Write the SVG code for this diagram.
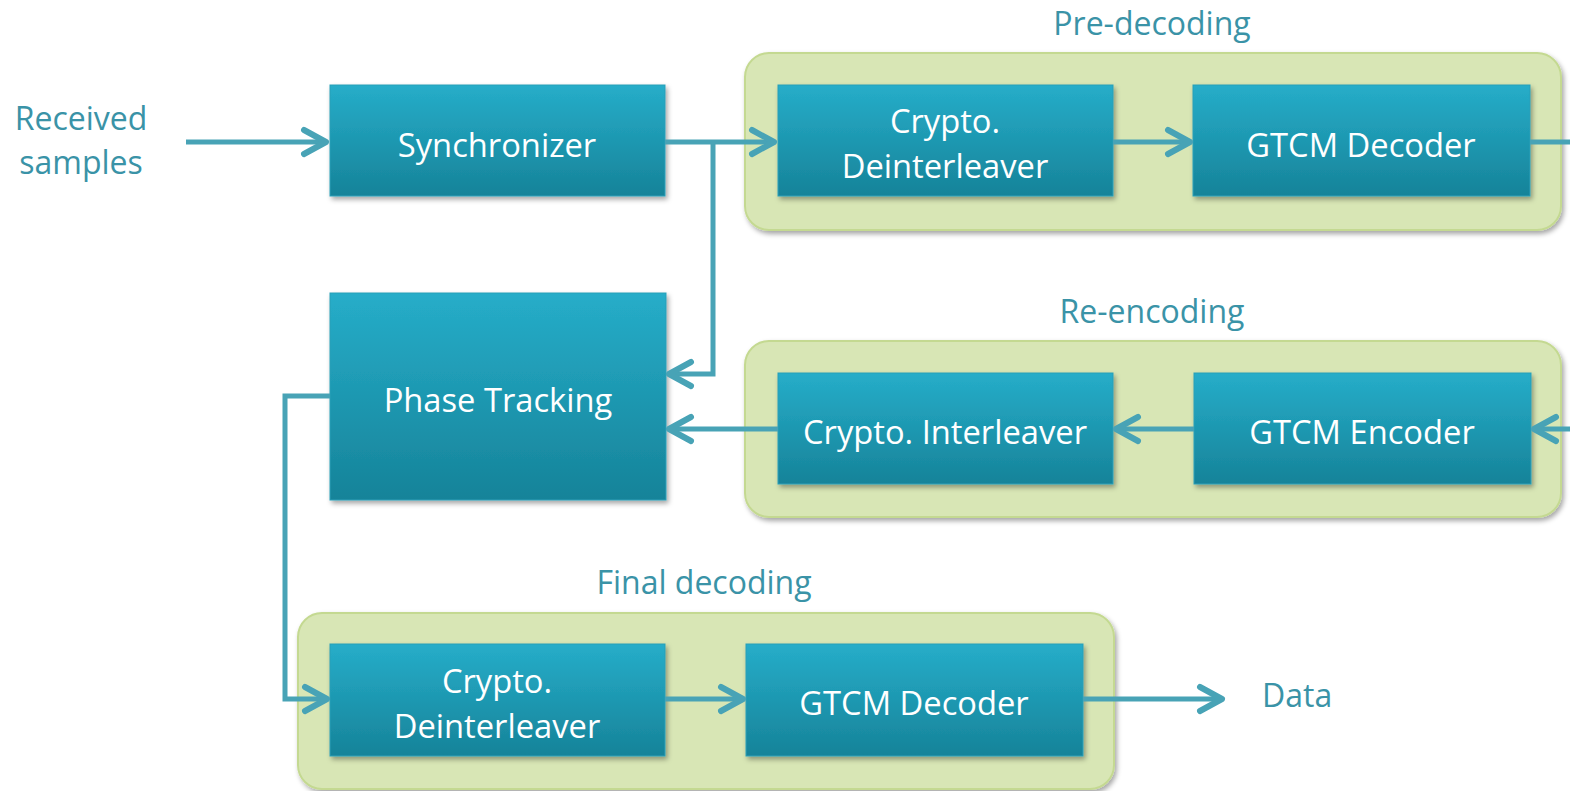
<svg xmlns="http://www.w3.org/2000/svg" width="1570" height="791" viewBox="0 0 1570 791">
<defs>
<linearGradient id="boxg" x1="0" y1="0" x2="0" y2="1">
<stop offset="0" stop-color="#26adc9"/>
<stop offset="1" stop-color="#168399"/>
</linearGradient>
<filter id="sh" x="-10%" y="-10%" width="125%" height="130%">
<feDropShadow dx="2" dy="3" stdDeviation="2.5" flood-color="#000" flood-opacity="0.35"/>
</filter>
<marker id="arr" markerUnits="userSpaceOnUse" viewBox="-28 -16 32 32" refX="0" refY="0" markerWidth="32" markerHeight="32" orient="auto">
<path d="M-22,-12 L0,0 L-22,12" fill="none" stroke="#48a3b6" stroke-width="6" stroke-linecap="round" stroke-linejoin="round"/>
</marker>
<style>
.box{fill:url(#boxg);stroke:#2a9fb8;stroke-width:1;filter:url(#sh)}
.grp{fill:#d8e6b5;stroke:#c4d991;stroke-width:2;filter:url(#sh)}
.bt{font-family:"Open Sans","Liberation Sans",sans-serif;font-size:32.7px;fill:#ffffff;text-anchor:middle}
.lt{font-family:"Open Sans","Liberation Sans",sans-serif;font-size:32px;fill:#3a93a7;text-anchor:middle}
.cn{fill:none;stroke:#48a3b6;stroke-width:5;stroke-linejoin:miter}
.cn.a{marker-end:url(#arr)}
</style>
</defs>
<rect width="1570" height="791" fill="#ffffff"/>

<g id="pre-decoding">
<rect class="grp" x="745" y="53" width="816" height="177" rx="24"/>
<text class="lt" x="1152" y="35">Pre-decoding</text>
</g>
<g id="re-encoding">
<rect class="grp" x="745" y="341" width="816" height="176" rx="24"/>
<text class="lt" x="1152" y="323">Re-encoding</text>
</g>
<g id="final-decoding">
<rect class="grp" x="298" y="613" width="816" height="176" rx="24"/>
<text class="lt" x="704" y="594">Final decoding</text>
</g>

<g id="received-samples">
<text class="lt" x="81" y="130">Received<tspan x="81" y="174">samples</tspan></text>
</g>
<g id="data">
<text class="lt" x="1262" y="707" style="text-anchor:start">Data</text>
</g>

<g id="synchronizer">
<rect class="box" x="330" y="85" width="335" height="111"/>
<text class="bt" x="497" y="157">Synchronizer</text>
</g>
<g id="phase-tracking">
<rect class="box" x="330" y="293" width="336" height="207"/>
<text class="bt" x="498" y="412">Phase Tracking</text>
</g>
<g id="pre-crypto-deinterleaver">
<rect class="box" x="778" y="85" width="335" height="111"/>
<text class="bt" x="945" y="132.5">Crypto.<tspan x="945" y="177.5">Deinterleaver</tspan></text>
</g>
<g id="pre-gtcm-decoder">
<rect class="box" x="1193" y="85" width="337" height="111"/>
<text class="bt" x="1361" y="157">GTCM Decoder</text>
</g>
<g id="crypto-interleaver">
<rect class="box" x="778" y="373" width="335" height="111"/>
<text class="bt" x="945" y="444">Crypto. Interleaver</text>
</g>
<g id="gtcm-encoder">
<rect class="box" x="1194" y="373" width="337" height="111"/>
<text class="bt" x="1362" y="444">GTCM Encoder</text>
</g>
<g id="final-crypto-deinterleaver">
<rect class="box" x="330" y="644" width="335" height="112"/>
<text class="bt" x="497" y="692.5">Crypto.<tspan x="497" y="737.5">Deinterleaver</tspan></text>
</g>
<g id="final-gtcm-decoder">
<rect class="box" x="746" y="644" width="337" height="112"/>
<text class="bt" x="914" y="715">GTCM Decoder</text>
</g>

<g id="connectors">
<path class="cn a" d="M186,142 H326"/>
<path class="cn a" d="M665,142 H774"/>
<path class="cn a" d="M713,142 V374 H669"/>
<path class="cn a" d="M1113,142 H1190"/>
<path class="cn" d="M1530,142 H1570"/>
<path class="cn a" d="M1570,429 H1534"/>
<path class="cn a" d="M1194,429 H1116"/>
<path class="cn a" d="M778,429 H669"/>
<path class="cn a" d="M330,396 H285 V699 H327"/>
<path class="cn a" d="M665,699 H743"/>
<path class="cn a" d="M1083,699 H1222"/>
</g>
</svg>
